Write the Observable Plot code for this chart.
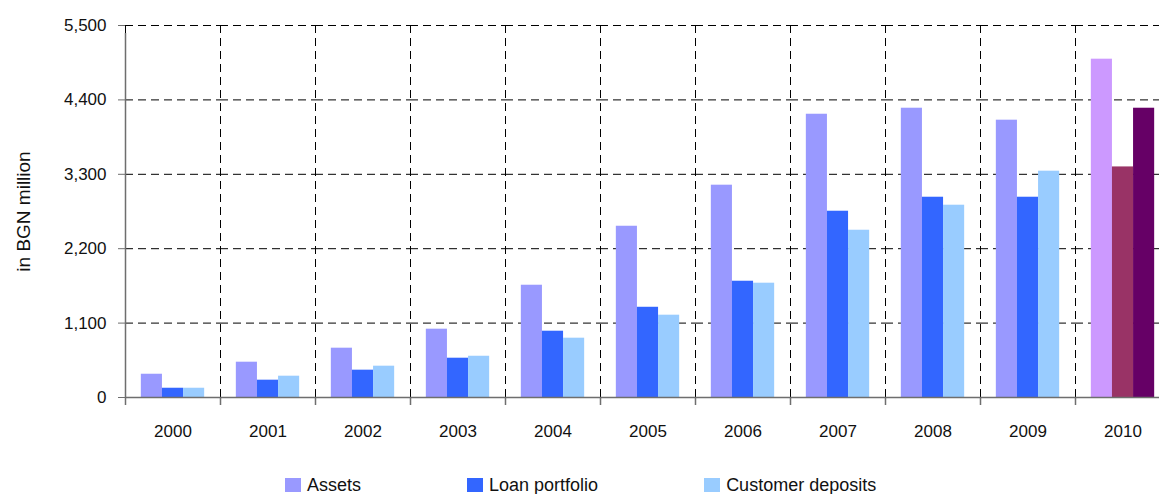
<!DOCTYPE html>
<html>
<head>
<meta charset="utf-8">
<script src="https://cdn.jsdelivr.net/npm/d3@7"></script>
<script src="https://cdn.jsdelivr.net/npm/@observablehq/plot@0.6"></script>
<style>
  html, body { margin: 0; padding: 0; background: #fff; overflow: hidden; }
  body { font-family: "Liberation Sans", Arial, sans-serif; color: #111; }
  #legend { display: flex; align-items: center; margin-left: 285px; gap: 106px; margin-top: 16px; font-size: 18px; line-height: 18px; }
  #legend .item { display: flex; align-items: center; gap: 6px; }
  #legend .sw { width: 16px; height: 14px; display: inline-block; }
  #chart g[aria-label="y-axis label"] text { font-size: 19px; }
</style>
</head>
<body>
<div id="chart"></div>
<div id="legend"></div>
<script>
// Bank balance sheet, in BGN million
const years = ["2000", "2001", "2002", "2003", "2004", "2005", "2006", "2007", "2008", "2009", "2010"];
const seriesNames = ["Assets", "Loan portfolio", "Customer deposits"];
const assets   = [344, 522, 729, 1010, 1660, 2532, 3139, 4188, 4277, 4100, 5002];
const loans    = [137, 256, 404, 581, 980, 1334, 1719, 2754, 2961, 2961, 3409];
const deposits = [137, 315, 463, 610, 877, 1217, 1690, 2473, 2843, 3346, 4277];
const yTicks = [0, 1100, 2200, 3300, 4400, 5500];

// Regular colours, and the highlighted colours of the latest year
const colors = ["#9999FF", "#3366FF", "#99CCFF"];
const latestColors = ["#CC99FF", "#993366", "#660066"];
const latestYear = "2010";

const values = [assets, loans, deposits];
const rows = years.flatMap((year, i) =>
  seriesNames.map((series, s) => ({
    year,
    series,
    value: values[s][i],
    fill: year === latestYear ? latestColors[s] : colors[s]
  }))
);

// Position of each series inside a year group (x runs 0..1 in every facet)
const band = d3.scaleBand().domain(seriesNames).range([0, 1]).paddingInner(0).paddingOuter(0.75);

const dash = "8,5";
const axisGray = "#6e6e6e";
const thousands = d3.format(",");

const chart = Plot.plot({
  width: 1159,
  height: 460,
  marginLeft: 125,
  marginRight: -11,
  marginTop: 25,
  marginBottom: 63,
  style: { fontFamily: "'Liberation Sans', Arial, sans-serif", fontSize: "17px", color: "#111", background: "#fff" },
  fx: { domain: years, padding: 0 },
  x: { domain: [0, 1], axis: null },
  y: { domain: [0, 5500] },
  color: { type: "identity" },
  marks: [
    // dashed horizontal gridlines
    Plot.ruleY(yTicks.filter((v) => v > 0), { stroke: "#000", strokeDasharray: dash }),
    // dashed separators between years
    Plot.ruleX([0], { y1: 0, y2: 5500, stroke: "#000", strokeDasharray: dash }),
    // bars
    Plot.rect(rows, {
      fx: "year",
      x1: (d) => band(d.series),
      x2: (d) => band(d.series) + band.bandwidth(),
      y1: 0,
      y2: "value",
      fill: "fill"
    }),
    // category axis line and separator ticks
    Plot.ruleY([0], { stroke: axisGray, strokeWidth: 1.5 }),
    Plot.ruleX([0], { y1: 0, y2: 0, insetBottom: -8, stroke: axisGray, strokeWidth: 1.5 }),
    // value axis line
    Plot.ruleX([years[0]], { fx: (d) => d, x: 0, y1: 0, y2: 5500, insetBottom: -8, stroke: axisGray, strokeWidth: 1.5 }),
    Plot.axisY({
      ticks: yTicks,
      tickFormat: thousands,
      tickSize: 7,
      tickPadding: 12,
      stroke: axisGray,
      fill: "#111",
      fontSize: 17,
      label: "in BGN million",
      labelAnchor: "center",
      labelArrow: false,
      labelOffset: 109
    }),
    Plot.axisFx({ anchor: "bottom", tickSize: 0, tickPadding: 27, label: null, fontSize: 17, fill: "#111" })
  ]
});
document.getElementById("chart").appendChild(chart);

// Legend
const legend = d3.select("#legend");
seriesNames.forEach((name, s) => {
  const item = legend.append("div").attr("class", "item");
  item.append("span").attr("class", "sw").style("background", colors[s]);
  item.append("span").text(name);
});
</script>
</body>
</html>
